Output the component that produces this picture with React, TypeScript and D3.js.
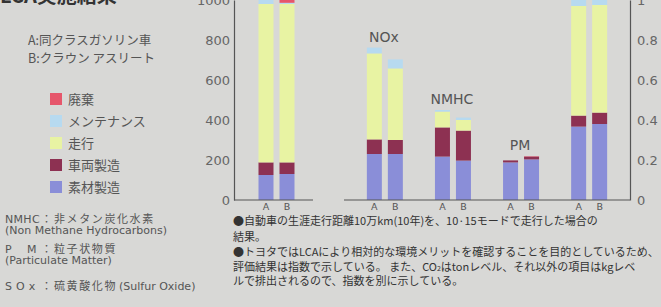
import React, { useEffect, useRef } from "react";
import { select, scaleLinear, scaleBand, scalePoint, stack, axisLeft, axisRight, max } from "d3";

// CO2 sits in the left panel, the emission items share the right panel
const leftGroups = ["CO2"];
const rightGroups = ["NOx", "NMHC", "PM", "SOx"];
const groupLabels = { CO2: "", NOx: "NOx", NMHC: "NMHC", PM: "PM", SOx: "" };
const cars = ["A", "B"];

// bottom -> top
const keys = ["素材製造", "車両製造", "走行", "メンテナンス", "廃棄"];
const colors = {
  素材製造: "#8a8ed8",
  車両製造: "#8d3152",
  走行: "#e8f3a3",
  メンテナンス: "#b7daf0",
  廃棄: "#e6566b"
};

// index values (left axis scale), order: CO2, NOx, NMHC, PM, SOx
const materialA = [125, 230, 217, 188, 367];
const materialB = [130, 230, 197, 203, 380];
const vehicleA = [63, 73, 146, 10, 55];
const vehicleB = [58, 70, 150, 14, 57];
const drivingA = [792, 430, 79, 0, 548];
const drivingB = [792, 358, 53, 0, 538];
const maintenanceA = [20, 29, 8, 0, 30];
const maintenanceB = [6, 45, 12, 0, 25];
const disposalA = [0, 0, 0, 0, 0];
const disposalB = [14, 0, 0, 2, 0];

const leftTicks = [0, 200, 400, 600, 800, 1000];
const rightTicks = [0, 0.2, 0.4, 0.6, 0.8, 1];

const carNotes = ["A:同クラスガソリン車", "B:クラウン アスリート"];
const termAbbr = ["NMHC", "P　 M", "S O x"];
const termJa = ["非メタン炭化水素", "粒子状物質", "硫黄酸化物"];
const termEn = ["(Non Methane Hydrocarbons)", "(Particulate Matter)", "(Sulfur Oxide)"];

const FONT = "'Noto Sans CJK JP', 'Noto Sans', sans-serif";
const LATIN = "'DejaVu Sans', 'Noto Sans CJK JP', sans-serif";

function App() {
  const svgRef = useRef(null);

  useEffect(() => {
    const svg = select(svgRef.current);
    svg.selectAll("*").remove();

    const groups = [...leftGroups, ...rightGroups];
    const series = { A: [materialA, vehicleA, drivingA, maintenanceA, disposalA], B: [materialB, vehicleB, drivingB, maintenanceB, disposalB] };
    const data = [];
    groups.forEach((g, gi) => {
      cars.forEach((c) => {
        const row = { group: g, car: c };
        keys.forEach((k, ki) => (row[k] = series[c][ki][gi]));
        data.push(row);
      });
    });
    const layers = stack().keys(keys)(data);

    // scales
    const y = scaleLinear().domain([0, 1000]).range([200, 0]);
    const yRight = scaleLinear().domain([0, 1]).range([200, 0]);
    const xLeft = scalePoint().domain(leftGroups).range([240, 313]).padding(0.5);
    const xRight = scalePoint().domain(rightGroups).range([344, 630]).padding(0.6);
    const xGroup = (g) => (leftGroups.includes(g) ? xLeft(g) : xRight(g));
    const xCar = scaleBand().domain(cars).range([-18, 18]).paddingInner(0.286);

    svg.append("rect").attr("width", 661).attr("height", 307).attr("fill", "#d8d8d6");

    // title (cut off at the top)
    svg.append("text").attr("x", 0).attr("y", 3).attr("font-size", 20).attr("font-weight", "bold")
      .attr("fill", "#333").attr("font-family", FONT).text("LCA実施結果");

    // bars
    svg.append("g").selectAll(".layer").data(layers).join("g")
      .attr("fill", (l) => colors[l.key])
      .selectAll("rect").data((l) => l).join("rect")
      .attr("x", (d) => xGroup(d.data.group) + xCar(d.data.car))
      .attr("width", xCar.bandwidth())
      .attr("y", (d) => y(d[1]))
      .attr("height", (d) => y(d[0]) - y(d[1]));

    // group labels
    const top = layers[layers.length - 1];
    svg.append("g").selectAll("text").data(groups.filter((g) => groupLabels[g])).join("text")
      .attr("x", (g) => xGroup(g) - 1)
      .attr("y", (g) => y(max(top.filter((d) => d.data.group === g), (d) => d[1])) - 6)
      .attr("text-anchor", "middle").attr("font-size", 14).attr("fill", "#555")
      .attr("font-family", LATIN).text((g) => groupLabels[g]);

    // baselines
    const line = (x1, x2, y1, y2) => svg.append("line").attr("x1", x1).attr("x2", x2).attr("y1", y1).attr("y2", y2)
      .attr("stroke", "#555").attr("stroke-width", 1.2);
    line(234, 313, y(0), y(0));
    line(344, 630, y(0), y(0));

    // car labels under bars
    svg.append("g").selectAll("text").data(data).join("text")
      .attr("x", (d) => xGroup(d.group) + xCar(d.car) + xCar.bandwidth() / 2)
      .attr("y", 210).attr("text-anchor", "middle").attr("font-size", 9.5).attr("fill", "#555")
      .attr("font-family", LATIN).text((d) => d.car);

    // axes
    const left = svg.append("g").attr("transform", "translate(234,0)")
      .call(axisLeft(y).tickValues(leftTicks).tickSize(0).tickPadding(4).tickFormat((d) => String(d)));
    const right = svg.append("g").attr("transform", "translate(630,0)")
      .call(axisRight(yRight).tickValues(rightTicks).tickSize(0).tickPadding(7).tickFormat((d) => String(d)));
    [left, right].forEach((a) => {
      a.select(".domain").attr("stroke", "#555").attr("stroke-width", 1.2);
      a.selectAll("text").attr("font-size", 13).attr("fill", "#666").attr("font-family", LATIN);
    });

    // notes on the left
    svg.append("g").selectAll("text").data(carNotes).join("text")
      .attr("x", 28).attr("y", (d, i) => 45 + i * 18).attr("font-size", 12.5).attr("fill", "#555")
      .attr("font-family", FONT).text((d) => d);

    const legend = svg.append("g").selectAll("g").data([...keys].reverse()).join("g")
      .attr("transform", (d, i) => `translate(50,${93 + i * 22})`);
    legend.append("rect").attr("width", 12).attr("height", 12).attr("fill", (d) => colors[d]);
    legend.append("text").attr("x", 18).attr("y", 11).attr("font-size", 13).attr("fill", "#555")
      .attr("font-family", FONT).text((d) => d);

    // term glossary
    const termY = [223, 253, 290];
    const terms = svg.append("g").attr("fill", "#555").attr("font-size", 11)
      .selectAll("g").data(termAbbr).join("g");
    terms.append("text").attr("x", 5).attr("y", (d, i) => termY[i]).attr("font-family", LATIN)
      .attr("xml:space", "preserve").attr("letter-spacing", 0.3).text((d) => d);
    terms.append("text").attr("x", 41).attr("y", (d, i) => termY[i]).attr("font-family", FONT).text("：");
    terms.append("text").attr("x", 54).attr("y", (d, i) => termY[i]).attr("font-family", FONT)
      .attr("letter-spacing", 1.6).text((d, i) => termJa[i]);
    terms.append("text").attr("x", (d, i) => (i === 2 ? 119 : 5)).attr("y", (d, i) => (i === 2 ? termY[i] : termY[i] + 11))
      .attr("font-family", LATIN).text((d, i) => termEn[i]);
  }, []);

  return (
    <div style={{ position: "absolute", left: 0, top: 0 }}>
      <svg ref={svgRef} width={661} height={307} style={{ display: "block" }} />
      <svg width={661} height={307} style={{ position: "absolute", left: 0, top: 0 }} fontFamily={FONT} fontSize={11} fill="#333">
        <text x={233} y={225}>●自動車の生涯走行距離10万km(10年)を、10·15モードで走行した場合の</text>
        <text x={233} y={241}>結果。</text>
        <text x={233} y={256}>●トヨタではLCAにより相対的な環境メリットを確認することを目的としているため、</text>
        <text x={233} y={271}>評価結果は指数で示している。 また、CO<tspan fontSize={7}>2</tspan>はtonレベル、それ以外の項目はkgレベ</text>
        <text x={233} y={285}>ルで排出されるので、指数を別に示している。</text>
      </svg>
    </div>
  );
}

export default App;
